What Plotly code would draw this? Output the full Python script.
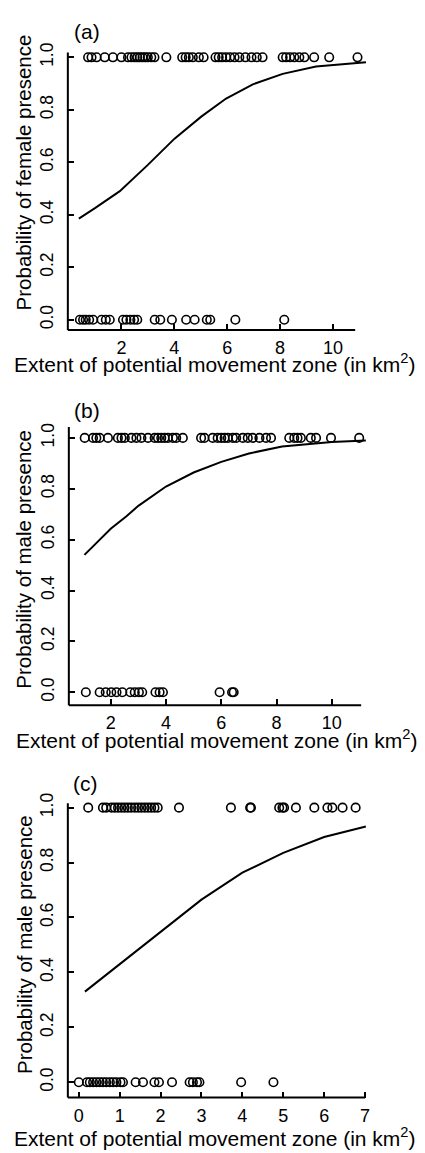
import plotly.graph_objects as go

W, H = 425, 1153

# ---------------- data ----------------
# Panel (a): female presence
a_present_x = [0.74, 0.87, 1.06, 1.37, 1.68, 2.0, 2.25, 2.38, 2.5, 2.6, 2.7, 2.8, 2.9, 3.0,
               3.13, 3.25, 3.7, 4.3, 4.43, 4.55, 4.7, 4.93, 5.11, 5.56, 5.68, 5.81, 5.96,
               6.11, 6.28, 6.46, 6.69, 6.92, 7.12, 7.34, 8.1, 8.23, 8.38, 8.54, 8.73, 8.92,
               9.29, 9.86, 10.93]
a_absent_x = [0.43, 0.55, 0.65, 0.78, 0.93, 1.25, 1.41, 1.56, 2.06, 2.19, 2.34, 2.48, 2.6,
              3.26, 3.47, 3.91, 4.45, 4.77, 5.23, 5.36, 6.31, 8.16]
a_curve_x = [0.39, 1.0, 1.94, 3.0, 4.01, 5.02, 5.96, 6.97, 8.1, 9.36, 11.25]
a_curve_y = [0.385, 0.425, 0.49, 0.59, 0.69, 0.774, 0.843, 0.897, 0.937, 0.965, 0.981]

# Panel (b): male presence
b_present_x = [1.06, 1.36, 1.48, 1.6, 1.9, 2.26, 2.39, 2.51, 2.75, 2.93, 3.11, 3.35, 3.59,
               3.71, 3.83, 3.95, 4.07, 4.25, 4.37, 4.61, 5.27, 5.39, 5.69, 5.87, 6.0, 6.12,
               6.24, 6.42, 6.54, 6.78, 6.96, 7.14, 7.38, 7.62, 7.8, 8.46, 8.64, 8.76, 8.88,
               9.24, 9.43, 9.97, 10.99]
b_absent_x = [1.1, 1.6, 1.82, 2.02, 2.21, 2.42, 2.71, 2.87, 3.02, 3.14, 3.62, 3.77, 3.89,
              5.94, 6.39, 6.45]
b_curve_x = [1.05, 2, 2.57, 3, 4, 5, 6, 7, 8.2, 10, 11.23]
b_curve_y = [0.54, 0.643, 0.692, 0.733, 0.809, 0.864, 0.906, 0.939, 0.966, 0.984, 0.99]

# Panel (c): male presence
c_present_x = [0.23, 0.59, 0.67, 0.8, 0.88, 0.96, 1.04, 1.12, 1.2, 1.28, 1.37, 1.45, 1.53,
               1.61, 1.69, 1.77, 1.85, 1.93, 2.45, 3.72, 4.19, 4.21, 4.9, 4.98, 5.02, 5.31,
               5.76, 6.08, 6.2, 6.45, 6.77]
c_absent_x = [0.0, 0.2, 0.27, 0.35, 0.43, 0.51, 0.59, 0.67, 0.76, 0.84, 0.92, 1.02, 1.08,
              1.39, 1.57, 1.85, 1.96, 2.28, 2.71, 2.79, 2.89, 2.95, 3.97, 4.76]
c_curve_x = [0.15, 1, 2, 3, 4, 5, 6, 7.02]
c_curve_y = [0.33, 0.43, 0.55, 0.665, 0.763, 0.835, 0.893, 0.931]

y_ticks = [0.0, 0.2, 0.4, 0.6, 0.8, 1.0]
y_ticktext = ["0.0", "0.2", "0.4", "0.6", "0.8", "1.0"]
a_xticks = [2, 4, 6, 8, 10]
b_xticks = [2, 4, 6, 8, 10]
c_xticks = [0, 1, 2, 3, 4, 5, 6, 7]

panel_labels = ["(a)", "(b)", "(c)"]
y_titles = ["Probability of female presence", "Probability of male presence",
            "Probability of male presence"]
x_title = "Extent of potential movement zone (in km<sup>2</sup>)"

# ---------------- layout geometry (pixels) ----------------
FONT = "Arial, Liberation Sans, Helvetica, sans-serif"
panels = [
    dict(present=a_present_x, absent=a_absent_x, cx=a_curve_x, cy=a_curve_y, xt=a_xticks,
         xdom=(68, 370), ydom=(42, 322), xr=(-0.026, 11.37), yr=(-0.039, 1.018), xline=356,
         lab=(87, 21), xtit=(216, 355), ytit=(24, 163)),
    dict(present=b_present_x, absent=b_absent_x, cx=b_curve_x, cy=b_curve_y, xt=b_xticks,
         xdom=(69, 370), ydom=(420, 701), xr=(0.485, 11.35), yr=(-0.0515, 1.043), xline=362,
         lab=(87, 403), xtit=(218, 735), ytit=(24, 553)),
    dict(present=c_present_x, absent=c_absent_x, cx=c_curve_x, cy=c_curve_y, xt=c_xticks,
         xdom=(68, 370), ydom=(800, 1097), xr=(-0.268, 7.10), yr=(-0.0556, 1.0155), xline=366,
         lab=(86, 780), xtit=(216, 1137), ytit=(24, 942)),
]

fig = go.Figure()
layout = dict(width=W, height=H, margin=dict(l=0, r=0, t=0, b=0),
              paper_bgcolor="white", plot_bgcolor="white", showlegend=False,
              font=dict(family=FONT, color="black"))
shapes, annotations = [], []

for i, p in enumerate(panels):
    n = i + 1
    xa = "x" if n == 1 else f"x{n}"
    ya = "y" if n == 1 else f"y{n}"
    marker = dict(symbol="circle-open", size=8.5, color="black", line=dict(width=1.6, color="black"))
    fig.add_trace(go.Scatter(x=p["present"], y=[1.0] * len(p["present"]), mode="markers",
                             marker=marker, xaxis=xa, yaxis=ya, cliponaxis=False))
    fig.add_trace(go.Scatter(x=p["absent"], y=[0.0] * len(p["absent"]), mode="markers",
                             marker=marker, xaxis=xa, yaxis=ya, cliponaxis=False))
    fig.add_trace(go.Scatter(x=p["cx"], y=p["cy"], mode="lines",
                             line=dict(color="black", width=2), xaxis=xa, yaxis=ya))

    x0, x1 = p["xdom"]
    y0, y1 = p["ydom"]
    xkey = "xaxis" if n == 1 else f"xaxis{n}"
    ykey = "yaxis" if n == 1 else f"yaxis{n}"
    layout[xkey] = dict(domain=[x0 / W, x1 / W], range=list(p["xr"]), anchor=ya,
                        tickmode="array", tickvals=p["xt"], ticktext=[str(v) for v in p["xt"]],
                        ticks="inside", ticklen=6, tickwidth=1.5, tickcolor="black",
                        showline=False, showgrid=False, zeroline=False,
                        tickfont=dict(size=18, family=FONT, color="black"),
                        ticklabelstandoff=5)
    layout[ykey] = dict(domain=[1 - y1 / H, 1 - y0 / H], range=list(p["yr"]), anchor=xa,
                        tickmode="array", tickvals=y_ticks, ticktext=y_ticktext,
                        tickangle=-90,
                        ticks="inside", ticklen=6, tickwidth=1.5, tickcolor="black",
                        showline=False, showgrid=False, zeroline=False,
                        tickfont=dict(size=17.5, family=FONT, color="black"),
                        ticklabelstandoff=10)
    frac = (p["xline"] - x0) / (x1 - x0)
    shapes.append(dict(type="line", xref=f"{xa} domain", yref=f"{ya} domain",
                       x0=0, x1=0, y0=0, y1=1, line=dict(color="black", width=2)))
    shapes.append(dict(type="line", xref=f"{xa} domain", yref=f"{ya} domain",
                       x0=0, x1=frac, y0=0, y1=0, line=dict(color="black", width=2)))

    lx, ly = p["lab"]
    annotations.append(dict(text=panel_labels[i], x=lx / W, y=1 - ly / H, xref="paper",
                            yref="paper", showarrow=False, xanchor="center", yanchor="middle",
                            font=dict(size=21, family=FONT, color="black")))
    tx, ty = p["xtit"]
    annotations.append(dict(text=x_title, x=tx / W, y=1 - ty / H, xref="paper", yref="paper",
                            showarrow=False, xanchor="center", yanchor="middle",
                            font=dict(size=21, family=FONT, color="black")))
    vx, vy = p["ytit"]
    annotations.append(dict(text=y_titles[i], x=vx / W, y=1 - vy / H, xref="paper",
                            yref="paper", showarrow=False, textangle=-90,
                            xanchor="center", yanchor="middle",
                            font=dict(size=20.5, family=FONT, color="black")))

layout["shapes"] = shapes
layout["annotations"] = annotations
fig.update_layout(**layout)
fig.write_html(
    "out.html",
    config={"displayModeBar": False},
    post_script=(
        "var gd=document.getElementById('{plot_id}');"
        "gd.style.position='absolute';gd.style.left='0px';gd.style.top='0px';"
        "document.body.style.margin='0px';"
        "document.body.style.overflow='hidden';"
        "document.documentElement.style.overflow='hidden';"
    ),
)
